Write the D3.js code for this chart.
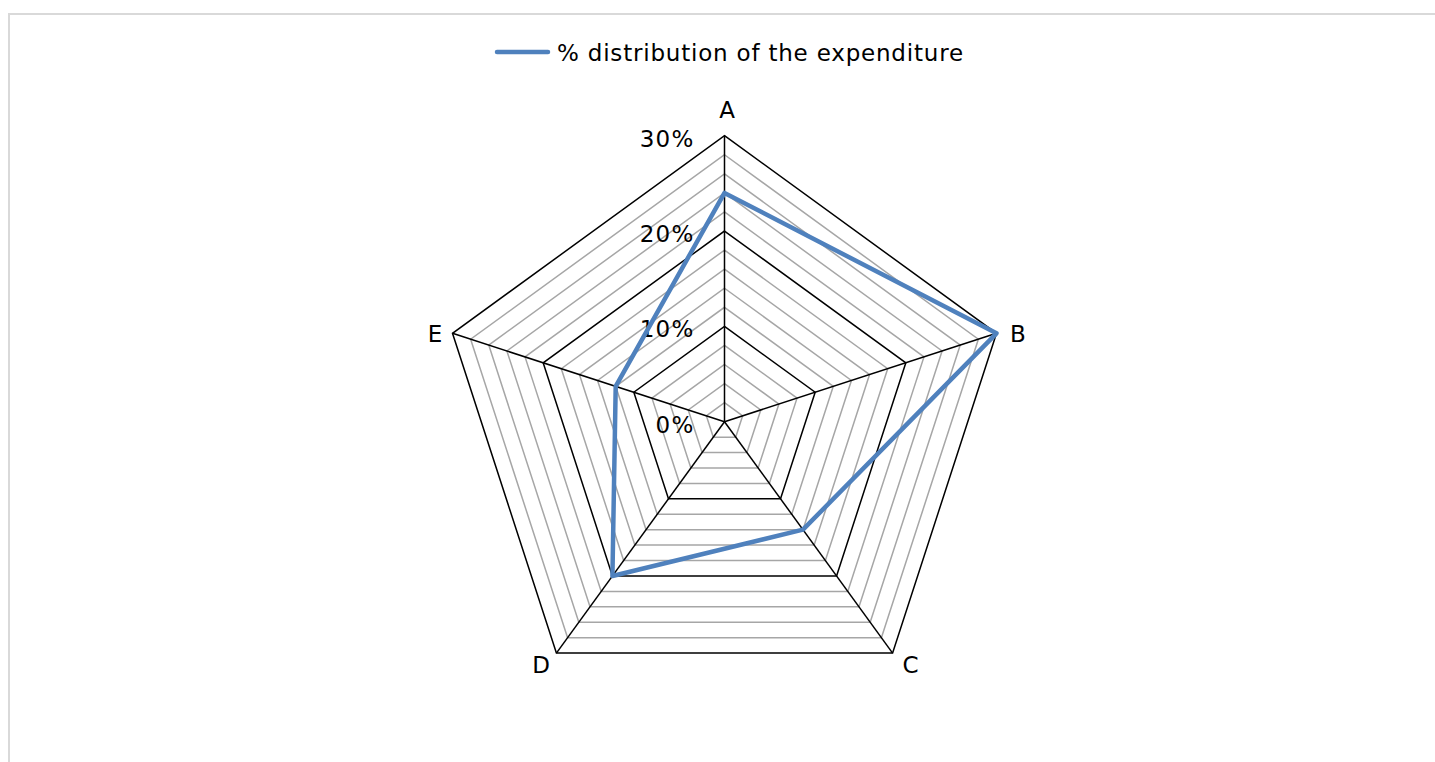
<!DOCTYPE html>
<html>
<head>
<meta charset="utf-8">
<script src="https://cdn.jsdelivr.net/npm/d3@7"></script>
<style>
  html, body { margin: 0; padding: 0; background: #fff; }
  svg { display: block; }
  text { font-family: "DejaVu Sans", Verdana, sans-serif; fill: #000; }
</style>
</head>
<body>
<svg id="chart" width="1435" height="762"></svg>
<script>
// Spending share per category (percent)
const categories = ["A", "B", "C", "D", "E"];
const values = [24, 30, 14, 20, 12];
const seriesName = "% distribution of the expenditure";
const majorTicks = [0, 10, 20, 30];
const tickLabels = ["0%", "10%", "20%", "30%"];
const minorStep = 2;

const svg = d3.select("#chart");
const W = 1435, H = 762;

// Chart area frame (runs past the right and bottom edges)
svg.append("rect")
  .attr("x", 9).attr("y", 14)
  .attr("width", W).attr("height", H)
  .attr("fill", "#fff")
  .attr("stroke", "#d9d9d9").attr("stroke-width", 2);

const cx = 724.5, cy = 421.7, R = 286;
const r = d3.scaleLinear().domain([0, 30]).range([0, R]);
const angle = d3.scaleBand().domain(categories).range([0, 2 * Math.PI]).paddingInner(0).paddingOuter(0);
const ang = c => angle(c) - Math.PI / 2;
const pt = (c, v) => [cx + r(v) * Math.cos(ang(c)), cy + r(v) * Math.sin(ang(c))];

const g = svg.append("g");

// Minor rings every 2%
const minor = d3.range(0, 30 + 0.001, minorStep).filter(v => v > 0 && v % 10 !== 0);
const ringPath = v => categories.map(c => pt(c, v).join(",")).join("L");
g.selectAll("path.minor").data(minor).join("path")
  .attr("class", "minor")
  .attr("d", v => "M" + ringPath(v) + "Z")
  .attr("fill", "none").attr("stroke", "#a6a6a6").attr("stroke-width", 1.5);

// Major rings
g.selectAll("path.major").data(majorTicks.filter(v => v > 0)).join("path")
  .attr("class", "major")
  .attr("d", v => "M" + ringPath(v) + "Z")
  .attr("fill", "none").attr("stroke", "#000").attr("stroke-width", 1.5);

// Spokes
g.selectAll("line.spoke").data(categories).join("line")
  .attr("class", "spoke")
  .attr("x1", cx).attr("y1", cy)
  .attr("x2", c => pt(c, 30)[0]).attr("y2", c => pt(c, 30)[1])
  .attr("stroke", "#000").attr("stroke-width", 1.5);

// Value axis labels along the A spoke
g.selectAll("text.tick").data(majorTicks).join("text")
  .attr("class", "tick")
  .attr("x", cx - 30)
  .attr("y", v => cy - r(v) + 11)
  .attr("text-anchor", "end")
  .attr("font-size", 23)
  .attr("letter-spacing", 1.2)
  .text((v, i) => tickLabels[i]);

// Category labels
const labelOffsets = { A: [2.5, -17.4], B: [21.5, 8.3], C: [18, 19.7], D: [-15.4, 19.7], E: [-17.5, 8.3] };
g.selectAll("text.cat").data(categories).join("text")
  .attr("class", "cat")
  .attr("x", c => pt(c, 30)[0] + labelOffsets[c][0])
  .attr("y", c => pt(c, 30)[1] + labelOffsets[c][1])
  .attr("text-anchor", "middle")
  .attr("font-size", 23)
  .text(c => c);

// Data series
const line = d3.lineRadial()
  .angle(d => angle(d.c))
  .radius(d => r(d.v))
  .curve(d3.curveLinearClosed);
g.append("path")
  .datum(categories.map((c, i) => ({ c, v: values[i] })))
  .attr("transform", `translate(${cx},${cy})`)
  .attr("d", line)
  .attr("fill", "none")
  .attr("stroke", "#4f81bd")
  .attr("stroke-width", 4.5)
  .attr("stroke-linejoin", "round");

// Legend
const lg = svg.append("g");
lg.append("line")
  .attr("x1", 497).attr("x2", 548).attr("y1", 52).attr("y2", 52)
  .attr("stroke", "#4f81bd").attr("stroke-width", 4.5).attr("stroke-linecap", "round");
lg.append("text")
  .attr("x", 557).attr("y", 61)
  .attr("font-size", 23)
  .attr("letter-spacing", 0.8)
  .text(seriesName);
</script>
</body>
</html>
